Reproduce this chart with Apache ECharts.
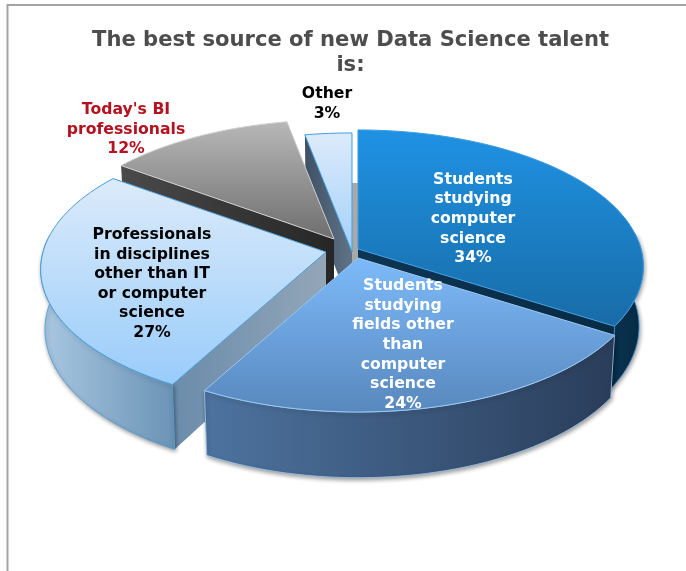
<!DOCTYPE html>
<html>
<head>
<meta charset="utf-8">
<script src="https://cdn.jsdelivr.net/npm/echarts@6/dist/echarts.min.js"></script>
<style>html,body{margin:0;padding:0;background:#fff}#c{width:686px;height:571px}</style>
</head>
<body>
<div id="c"></div>
<script>
const titleText = 'The best source of new Data Science talent\nis:';
const categories = [
  'Students\nstudying\ncomputer\nscience',
  'Students\nstudying\nfields other\nthan\ncomputer\nscience',
  'Professionals\nin disciplines\nother than IT\nor computer\nscience',
  "Today's BI\nprofessionals",
  'Other'
];
const shares = [34, 24, 27, 12, 3];

// presentation of the exploded perspective pie
const apexes = [[358, 249], [358, 258], [326, 252], [334, 239], [352, 252]];
const labelCentres = [[473, 219], [403, 345], [152, 284], [126, 129.5], [327, 104]];
const labelColors = ['#ffffff', '#ffffff', '#000000', '#b5121f', '#000000'];
const paintOrder = [5, 4, 1, 3, 2]; // 1-based slice → painted in this order
const topColors = [['#1f92e4', '#186ca6'], ['#7dbafa', '#5888bd'], ['#dcebfa', '#99ccfb'], ['#b8b8b8', '#6e6e6e'], ['#dcebfa', '#a3d0fa']];
const wallColors = [['#0a3350', '#062a44'], ['#4d739f', '#2a3d5a'], ['#a9c8e2', '#6b93b5'], ['#4a4a4a', '#2b2b2b'], ['#5a6e82', '#43566a']];
const faceColors = [['#0d3554', '#082b45'], ['#4d739f', '#2a3d5a'], ['#6a8cab', '#93a6b8'], ['#4a4a4a', '#262626'], ['#3f5265', '#5f7286']];
const edgeColors = ['#3f9be0', '#9cc8f2', '#4a9dd8', '#cfcfcf', '#3f9be0'];
const RX = 283, RY = 134.3, K = 0.128, DEPTH = 59.3, SHRINK = 0.985;
const FRONT_FROM = 83, FRONT_TO = 277; // part of the rim that faces the viewer

const total = shares.reduce((a, b) => a + b, 0);
function disc(apex, deg, low) {
  const t = deg * Math.PI / 180, d = 1 + K * Math.cos(t);
  const s = low ? SHRINK : 1;
  return [
    apex[0] + s * RX * Math.sin(t) / d,
    apex[1] - s * RY * Math.cos(t) / d + (low ? DEPTH / d : 0)
  ];
}
function arc(apex, a0, a1, low) {
  const pts = [], n = Math.max(2, Math.ceil(Math.abs(a1 - a0) / 2));
  for (let i = 0; i <= n; i++) pts.push(disc(apex, a0 + (a1 - a0) * i / n, low));
  return pts;
}
function grad(c, vertical) {
  return new echarts.graphic.LinearGradient(0, 0, vertical ? 0 : 1, vertical ? 1 : 0, [
    { offset: 0, color: c[0] }, { offset: 1, color: c[1] }
  ]);
}
function poly(points, style, z2) {
  return { type: 'polygon', shape: { points }, style: Object.assign({ shadowBlur: 0, shadowColor: 'rgba(0,0,0,0)' }, style), z2, silent: true };
}

function renderItem(params, api) {
  const i = params.dataIndex;
  let before = 0;
  for (let j = 0; j < i; j++) before += shares[j];
  const a0 = before / total * 360, a1 = (before + api.value(0)) / total * 360;
  const apex = apexes[i];
  const base = paintOrder.indexOf(i + 1) * 10 + 10;
  const low = [apex[0], apex[1] + DEPTH];
  const edge = edgeColors[i];
  const top = [apex].concat(arc(apex, a0, a1, false));
  const p0 = disc(apex, a0, false), p1 = disc(apex, a1, false);
  const q0 = disc(apex, a0, true), q1 = disc(apex, a1, true);
  const children = [
    poly([apex, p1, q1, low], { fill: grad(faceColors[i], false) }, base),
    poly([apex, p0, q0, low], { fill: grad(faceColors[i], false) }, base + 1),
    poly(top, { fill: grad(topColors[i], true), stroke: edge, lineWidth: 1, lineJoin: 'round' }, base + 3),
    {
      type: 'text', z2: 200, silent: true,
      style: {
        x: labelCentres[i][0], y: labelCentres[i][1],
        text: categories[i] + '\n' + api.value(0) + '%',
        fill: labelColors[i], align: 'center', verticalAlign: 'middle',
        font: 'bold 15.7px "DejaVu Sans"', lineHeight: 19.6
      }
    }
  ];
  const w0 = Math.max(a0, FRONT_FROM), w1 = Math.min(a1, FRONT_TO);
  if (w1 > w0) {
    children.push(poly(arc(apex, w0, w1, false).concat(arc(apex, w1, w0, true)), {
      fill: grad(wallColors[i], false), stroke: edge, lineWidth: 0.8,
      shadowBlur: 4, shadowColor: 'rgba(0,0,0,0.4)', shadowOffsetX: 1, shadowOffsetY: 2
    }, base + 2));
  }
  if (i === 4) {
    // soft shadow this sliver throws on the chart behind it
    const off = top.map(p => [p[0] + 6, p[1] + 50]);
    children.unshift(poly(off, { fill: '#a9a9a9' }, 1));
  }
  return { type: 'group', children };
}

const chart = echarts.init(document.getElementById('c'), null, { renderer: 'canvas' });
chart.setOption({
  animation: false,
  backgroundColor: '#ffffff',
  title: {
    text: titleText, left: 345.5, top: 23, textAlign: 'center',
    textStyle: { fontFamily: 'DejaVu Sans', fontWeight: 'bold', fontSize: 21.1, color: '#4d4d4d', lineHeight: 25 }
  },
  graphic: [{
    type: 'polyline', silent: true,
    shape: { points: [[7.5, 571], [7.5, 5], [686, 5]] },
    style: { stroke: '#a3a3a3', lineWidth: 2, fill: null }
  }],
  series: [{
    type: 'custom', coordinateSystem: 'none', clip: false, silent: true,
    renderItem,
    data: shares.map((v, i) => ({ name: categories[i], value: [v] }))
  }]
});
</script>
</body>
</html>
